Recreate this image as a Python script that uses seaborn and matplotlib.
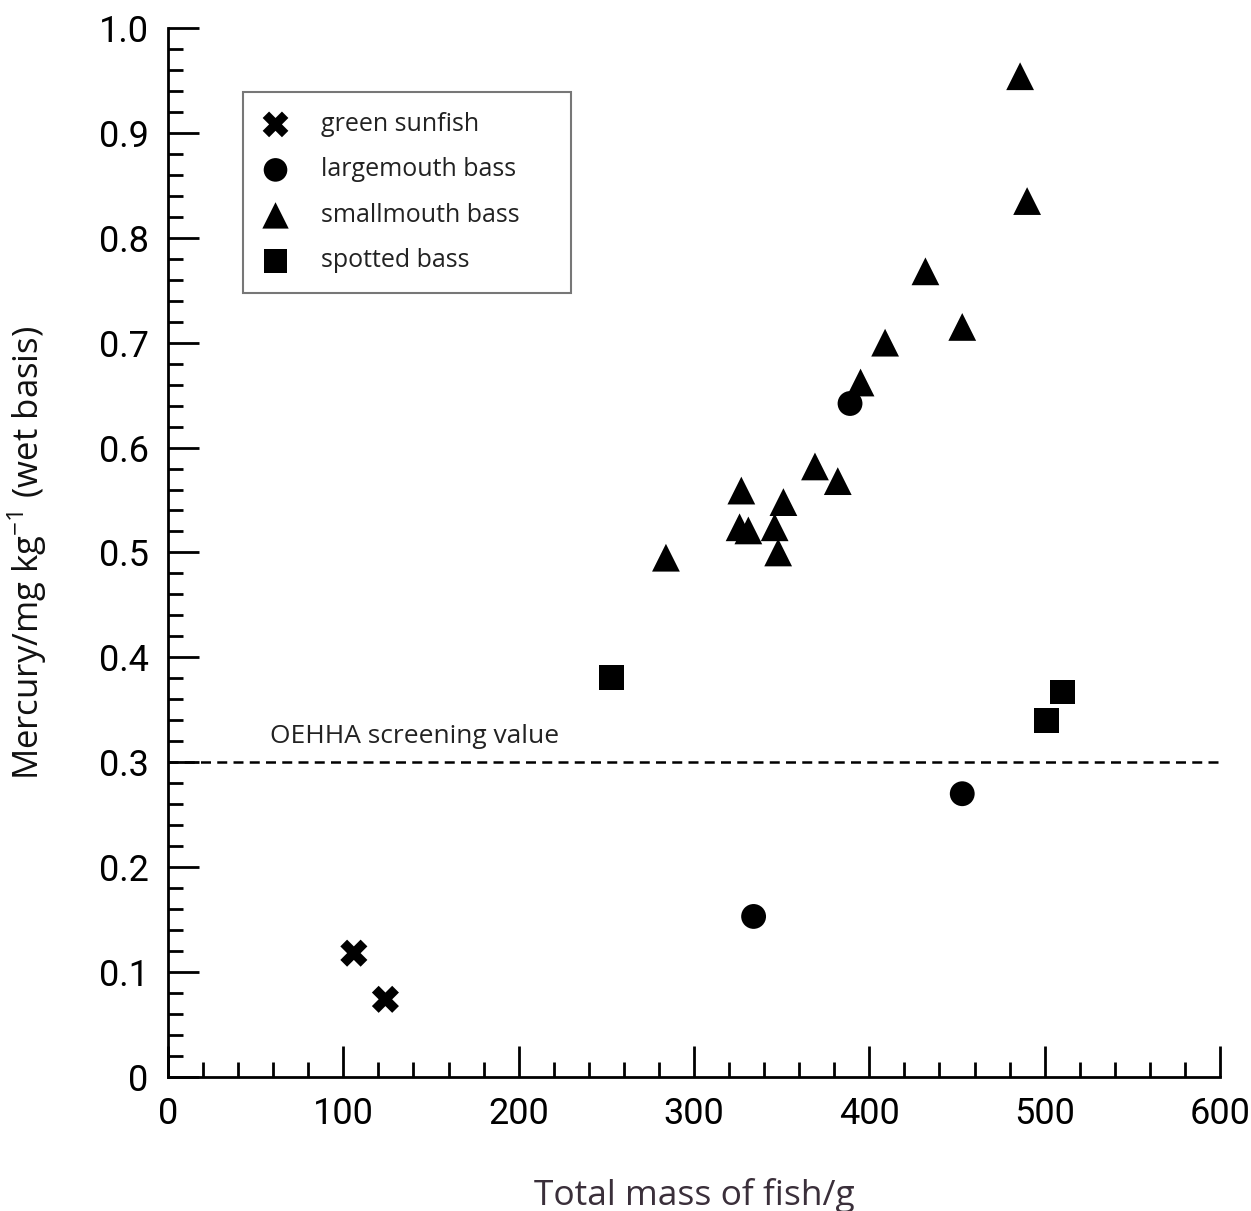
import numpy as np
import pandas as pd
import matplotlib
matplotlib.use("Agg")
import matplotlib.pyplot as plt
from matplotlib.ticker import MultipleLocator
import seaborn as sns

# Data
sunfish_mass = [106, 124]
sunfish_hg = [0.118, 0.074]

largemouth_mass = [389, 453, 334]
largemouth_hg = [0.642, 0.270, 0.153]

smallmouth_mass = [486, 490, 432, 453, 409, 395, 369, 382, 327, 351, 326, 331, 346, 348, 284]
smallmouth_hg = [0.954, 0.835, 0.768, 0.715, 0.700, 0.662, 0.582, 0.568, 0.559, 0.548,
                 0.524, 0.521, 0.524, 0.500, 0.495]

spotted_mass = [253, 510, 501]
spotted_hg = [0.381, 0.367, 0.340]

species = ["green sunfish", "largemouth bass", "smallmouth bass", "spotted bass"]
screening_value = 0.3

df = pd.concat([
    pd.DataFrame({"mass": sunfish_mass, "hg": sunfish_hg, "species": species[0]}),
    pd.DataFrame({"mass": largemouth_mass, "hg": largemouth_hg, "species": species[1]}),
    pd.DataFrame({"mass": smallmouth_mass, "hg": smallmouth_hg, "species": species[2]}),
    pd.DataFrame({"mass": spotted_mass, "hg": spotted_hg, "species": species[3]}),
], ignore_index=True)

sns.set_style("white")
plt.rcParams["font.family"] = ["Open Sans", "DejaVu Sans"]
plt.rcParams["mathtext.fontset"] = "custom"
plt.rcParams["mathtext.rm"] = "Open Sans"

markers = {species[0]: "X", species[1]: "o", species[2]: "^", species[3]: "s"}
sizes = {species[0]: 380, species[1]: 320, species[2]: 400, species[3]: 320}

fig = plt.figure(figsize=(12.51, 12.11), dpi=100)
ax = fig.add_axes([0.1343, 0.1107, 0.8409, 0.8662])

for sp in species:
    sub = df[df["species"] == sp]
    sns.scatterplot(data=sub, x="mass", y="hg", marker=markers[sp], s=sizes[sp],
                    color="black", edgecolor="none", linewidth=0, label=sp, ax=ax, zorder=3)

ax.axhline(screening_value, color="black", linestyle=(0, (4, 2.5)), linewidth=1.8, zorder=2)
ax.text(58, 0.313, "OEHHA screening value", fontsize=19, color="#222222",
        ha="left", va="bottom")

ax.set_xlim(0, 600)
ax.set_ylim(0, 1.0)
ax.xaxis.set_major_locator(MultipleLocator(100))
ax.xaxis.set_minor_locator(MultipleLocator(20))
ax.yaxis.set_major_locator(MultipleLocator(0.1))
ax.yaxis.set_minor_locator(MultipleLocator(0.02))
ax.set_yticks(np.arange(0, 1.01, 0.1))
ax.set_yticklabels(["0"] + [f"{v:.1f}" for v in np.arange(0.1, 1.01, 0.1)])

for side in ["top", "right"]:
    ax.spines[side].set_visible(False)
for side in ["left", "bottom"]:
    ax.spines[side].set_linewidth(2)
    ax.spines[side].set_color("black")

ax.tick_params(which="both", bottom=True, left=True, top=False, right=False)
ax.tick_params(which="major", direction="in", length=22, width=2, color="black",
               labelsize=26, pad=14, labelcolor="black")
ax.tick_params(which="minor", direction="in", length=11, width=2, color="black")
for lab in ax.get_xticklabels() + ax.get_yticklabels():
    lab.set_family(["Roboto", "DejaVu Sans"])

ax.set_xlabel("Total mass of fish/g", fontsize=25.5, color="#3a2f3a", labelpad=33)
ax.set_ylabel(r"Mercury/mg kg$^{-1}$ (wet basis)", fontsize=25, labelpad=36, color="#111111")

leg = ax.legend(loc="upper left", bbox_to_anchor=(0.0713, 0.746, 0.3118, 0.193),
                mode="expand", frameon=True,
                fancybox=False, fontsize=18, handlelength=1.0, handletextpad=1.3,
                labelspacing=0.82, borderpad=0.8, markerscale=0.95, borderaxespad=0)
leg.get_frame().set_edgecolor("#555555")
leg.get_frame().set_linewidth(1.5)
for t in leg.get_texts():
    t.set_color("#222222")

fig.savefig("out.png", dpi=100)
